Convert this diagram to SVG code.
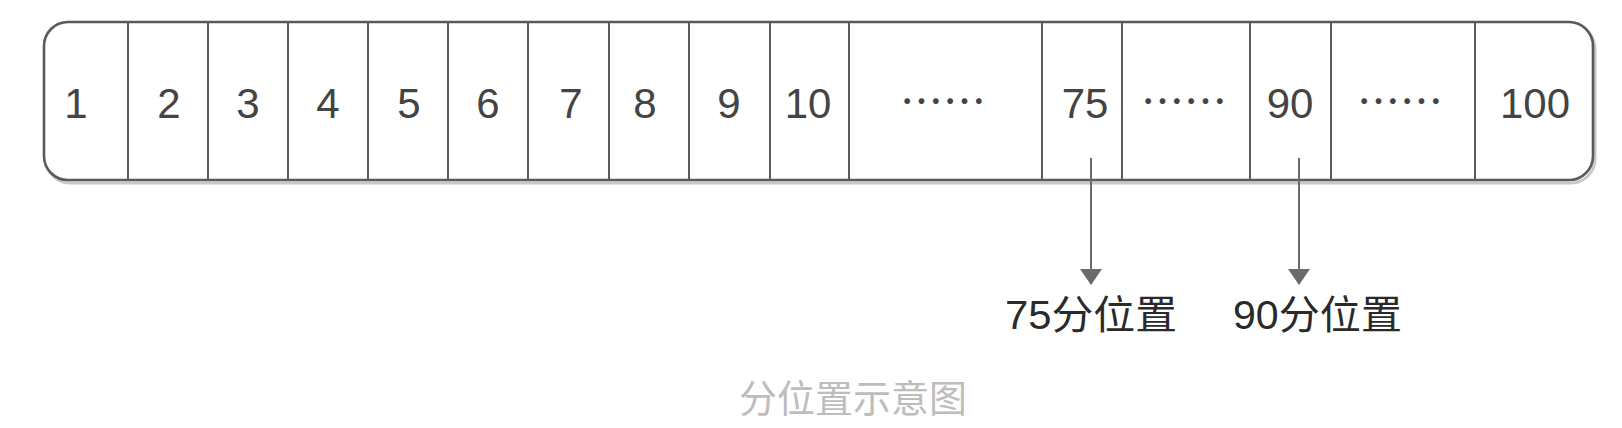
<svg xmlns="http://www.w3.org/2000/svg" width="1622" height="428" viewBox="0 0 1622 428">
<style>
  .box{fill:#fff;stroke:#5a5a5a;stroke-width:2.6}
  .shadow{fill:none;stroke:#c8c8c8;stroke-width:3}
  .div{stroke:#4a4a4a;stroke-width:1.8}
  .num{font-family:"Liberation Sans",Arial,sans-serif;font-size:42px;fill:#444;text-anchor:middle}
  .dots{font-family:"Noto Sans CJK SC",sans-serif;font-size:43px;fill:#444;text-anchor:middle}
  .lbl{font-family:"Liberation Sans","Noto Sans CJK SC",sans-serif;font-size:40px;fill:#2a2a2a}
  .cap{font-family:"Noto Sans CJK SC",sans-serif;font-size:38px;fill:#bdbdbd;text-anchor:middle}
  .conn{stroke:#6a6a6a;stroke-width:2;fill:none}
</style>
<defs>
  <marker id="ah" markerWidth="16" markerHeight="22" refX="15" refY="11" orient="auto" markerUnits="userSpaceOnUse" viewBox="0 0 16 22">
    <path d="M0,0 L16,11 L0,22 Z" fill="#6a6a6a"/>
  </marker>
</defs>
<g id="array">
  <rect class="shadow" x="46" y="25" width="1549" height="158" rx="24"/>
  <rect class="box" x="44" y="22" width="1549" height="158" rx="24"/>
  <g id="dividers">
    <line class="div" x1="128" y1="23" x2="128" y2="179"/>
    <line class="div" x1="208" y1="23" x2="208" y2="179"/>
    <line class="div" x1="288" y1="23" x2="288" y2="179"/>
    <line class="div" x1="368" y1="23" x2="368" y2="179"/>
    <line class="div" x1="448" y1="23" x2="448" y2="179"/>
    <line class="div" x1="528" y1="23" x2="528" y2="179"/>
    <line class="div" x1="609" y1="23" x2="609" y2="179"/>
    <line class="div" x1="689" y1="23" x2="689" y2="179"/>
    <line class="div" x1="770" y1="23" x2="770" y2="179"/>
    <line class="div" x1="849" y1="23" x2="849" y2="179"/>
    <line class="div" x1="1042" y1="23" x2="1042" y2="179"/>
    <line class="div" x1="1122" y1="23" x2="1122" y2="179"/>
    <line class="div" x1="1250" y1="23" x2="1250" y2="179"/>
    <line class="div" x1="1331" y1="23" x2="1331" y2="179"/>
    <line class="div" x1="1475" y1="23" x2="1475" y2="179"/>
  </g>
</g>
<g id="cell-1"><text class="num" x="76" y="118">1</text></g>
<g id="cell-2"><text class="num" x="169" y="118">2</text></g>
<g id="cell-3"><text class="num" x="248" y="118">3</text></g>
<g id="cell-4"><text class="num" x="328" y="118">4</text></g>
<g id="cell-5"><text class="num" x="409" y="118">5</text></g>
<g id="cell-6"><text class="num" x="488" y="118">6</text></g>
<g id="cell-7"><text class="num" x="571" y="118">7</text></g>
<g id="cell-8"><text class="num" x="645" y="118">8</text></g>
<g id="cell-9"><text class="num" x="729" y="118">9</text></g>
<g id="cell-10"><text class="num" x="808" y="118">10</text></g>
<g id="cell-gap1"><text class="dots" x="943" y="118">……</text></g>
<g id="cell-75"><text class="num" x="1085" y="118">75</text></g>
<g id="cell-gap2"><text class="dots" x="1184" y="118">……</text></g>
<g id="cell-90"><text class="num" x="1290" y="118">90</text></g>
<g id="cell-gap3"><text class="dots" x="1400" y="118">……</text></g>
<g id="cell-100"><text class="num" x="1535" y="118">100</text></g>
<g id="connectors">
  <line class="conn" x1="1091" y1="158" x2="1091" y2="284" marker-end="url(#ah)"/>
  <line class="conn" x1="1299" y1="158" x2="1299" y2="284" marker-end="url(#ah)"/>
</g>
<g id="label-75"><text class="lbl" x="1005" y="329" textLength="172" lengthAdjust="spacingAndGlyphs">75分位置</text></g>
<g id="label-90"><text class="lbl" x="1233" y="329" textLength="169" lengthAdjust="spacingAndGlyphs">90分位置</text></g>
<g id="caption"><text class="cap" x="853" y="412">分位置示意图</text></g>
</svg>
